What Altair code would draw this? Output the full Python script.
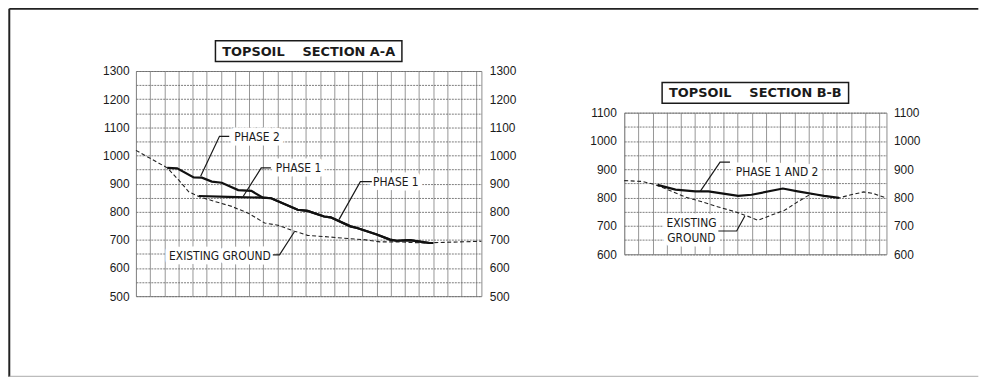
import altair as alt
import pandas as pd

# ---------------- TOPSOIL SECTION A-A ----------------
a_ground_x = [0, 2.21, 3.03, 3.73, 4.43, 5.59, 6.76, 7.92, 9.09, 10.03, 11.19, 12.12, 13.75, 15.15, 16.08, 17.24, 18.41, 20.28, 24.4]
a_ground_y = [1018, 956, 912, 871, 854, 836, 819, 795, 760, 752, 731, 716, 710, 704, 701, 693, 693, 689, 695]

a_phase2_x = [2.21, 2.91, 4.08, 4.66, 5.36, 6.06, 7.22, 8.15, 8.97, 9.55, 11.42, 12.12, 13.29, 13.75, 15.15, 15.62, 17.01, 17.94, 18.41, 19.34, 20.74, 21.0]
a_phase2_y = [956, 954, 922, 921, 907, 903, 877, 874, 850, 848, 807, 803, 783, 780, 748, 742, 719, 701, 697, 699, 689, 689]

a_phase1_x = [4.43, 6.5, 8.97, 9.55, 11.42, 12.12, 13.29, 13.75, 15.15, 15.62, 17.01, 17.94, 18.41, 19.34, 20.74, 21.0]
a_phase1_y = [856, 853, 850, 848, 807, 803, 783, 780, 748, 742, 719, 701, 697, 699, 689, 689]

a_label_text = ["PHASE 2", "PHASE 1", "PHASE 1", "EXISTING GROUND"]
a_label_x = [8.55, 11.48, 18.36, 5.93]
a_label_y = [1065, 957, 905, 642]

a_leader_id = [0, 0, 0, 1, 1, 1, 2, 2, 2, 3, 3, 3]
a_leader_x = [6.59, 5.90, 4.57, 9.53, 8.85, 7.57, 16.66, 15.85, 14.34, 9.67, 10.14, 11.19]
a_leader_y = [1068, 1068, 926, 956, 956, 854, 907, 907, 772, 647, 647, 729]

a_title = "TOPSOIL\u00a0\u00a0\u00a0\u00a0SECTION A-A"
a_x_domain = [0, 24.4]
a_y_domain = [500, 1300]

# ---------------- TOPSOIL SECTION B-B ----------------
b_ground_x = [0, 1.29, 2.22, 2.92, 4.31, 5.48, 6.64, 7.81, 8.51, 9.44, 10.38, 11.31, 12.24, 13.17, 14.1, 15.15, 16.0, 16.9, 17.6, 18.5]
b_ground_y = [860, 857, 845, 831, 802, 785, 767, 750, 738, 720, 738, 755, 785, 813, 806, 799, 810, 820, 814, 798]

b_phase_x = [2.34, 3.62, 5.01, 5.94, 8.04, 8.98, 11.19, 12.24, 13.64, 14.1, 15.15]
b_phase_y = [845, 828, 822, 822, 806, 810, 832, 822, 810, 806, 799]

b_label_text = ["PHASE 1 AND 2", "EXISTING", "GROUND"]
b_label_x = [10.78, 4.74, 4.74]
b_label_y = [891, 709, 656]

b_leader_id = [0, 0, 0, 1, 1, 1]
b_leader_x = [7.46, 6.76, 5.36, 6.64, 7.93, 8.51]
b_leader_y = [925, 925, 822, 682, 682, 735]

b_title = "TOPSOIL\u00a0\u00a0\u00a0\u00a0SECTION B-B"
b_x_domain = [0, 18.5]
b_y_domain = [600, 1100]

# ---------------- layout / style ----------------
W_A, H_A = 348.3, 227.0
W_B, H_B = 264.4, 142.7
GAP_X = 143.3          # horizontal distance between the two plot areas
OFFSET_B = 41.6        # vertical drop of the B-B plot area
LABEL_FONT = "Liberation Sans"
NOTE_FONT = "Liberation Sans Narrow, DejaVu Sans Condensed, Liberation Sans"
TITLE_FONT = "DejaVu Sans"
INK = "#1a1a1a"


def panel(ground_x, ground_y, phases, lab_t, lab_x, lab_y, led_id, led_x, led_y,
          title, xdom, ydom, W, H, lab_pad_left, lab_pad_right, extra=None):
    xs = alt.Scale(domain=xdom, nice=False, zero=False)
    ys = alt.Scale(domain=ydom, nice=False, zero=False)
    ground = pd.DataFrame({"x": ground_x, "y": ground_y})
    ph_rows = []
    for name, px, py in phases:
        for i, (a, b) in enumerate(zip(px, py)):
            ph_rows.append({"series": name, "x": a, "y": b, "i": i})
    ph = pd.DataFrame(ph_rows)
    labels = pd.DataFrame({"t": lab_t, "x": lab_x, "y": lab_y})
    leaders = pd.DataFrame({"id": led_id, "x": led_x, "y": led_y,
                            "i": list(range(len(led_x)))})

    major = list(range(ydom[0], ydom[1] + 1, 100))
    allv = list(range(ydom[0], ydom[1] + 1, 50))
    xticks = list(range(0, int(xdom[1]) + 1))

    ground_layer = alt.Chart(ground).mark_line(
        color="#222222", strokeWidth=1.1, strokeDash=[4, 2.5]
    ).encode(
        x=alt.X("x:Q", scale=xs, axis=alt.Axis(
            values=xticks, grid=True, gridColor="#8a8a8a", gridWidth=0.9,
            labels=False, ticks=False, domain=False, title=None)),
        y=alt.Y("y:Q", scale=ys, axis=alt.Axis(
            values=allv, format="d",
            labelExpr="datum.value % 100 === 0 ? datum.label : ''",
            grid=True, gridColor="#6e6e6e", gridWidth=0.9, gridDash=[2, 1],
            ticks=False, domain=False, labelPadding=lab_pad_left,
            labelFont=LABEL_FONT, labelFontSize=12, labelColor=INK, title=None)),
    )
    phase_layer = alt.Chart(ph).mark_line(color="#111111", strokeWidth=2.2).encode(
        x=alt.X("x:Q", scale=xs, axis=None),
        y=alt.Y("y:Q", scale=ys, axis=alt.Axis(
            orient="right", values=major, format="d", grid=False, ticks=False,
            domain=False, labelPadding=lab_pad_right, labelFont=LABEL_FONT,
            labelFontSize=12, labelColor=INK, title=None)),
        detail="series:N",
        order="i:Q",
    )
    mask_layer = alt.Chart(labels).mark_text(
        font=NOTE_FONT, fontSize=12, fill="white", stroke="white",
        strokeWidth=9, strokeJoin="round", baseline="middle", align="center"
    ).encode(x=alt.X("x:Q", scale=xs, axis=None),
             y=alt.Y("y:Q", scale=ys, axis=None), text="t:N")
    leader_layer = alt.Chart(leaders).mark_line(color=INK, strokeWidth=1.2).encode(
        x=alt.X("x:Q", scale=xs, axis=None),
        y=alt.Y("y:Q", scale=ys, axis=None),
        detail="id:N", order="i:Q")
    text_layer = alt.Chart(labels).mark_text(
        font=NOTE_FONT, fontSize=12, color=INK, baseline="middle", align="center"
    ).encode(x=alt.X("x:Q", scale=xs, axis=None),
             y=alt.Y("y:Q", scale=ys, axis=None), text="t:N")

    one = pd.DataFrame({"d": [0]})
    box = alt.Chart(one).mark_rect(
        fill="white", stroke=INK, strokeWidth=1.5
    ).encode(x=alt.value(W / 2 - 94), x2=alt.value(W / 2 + 94),
             y=alt.value(-30.5), y2=alt.value(-9.5))
    ttl = alt.Chart(one).mark_text(
        font=TITLE_FONT, fontWeight="bold", fontSize=13, color=INK,
        baseline="middle", align="center"
    ).encode(x=alt.value(W / 2), y=alt.value(-19.5), text=alt.value(title))

    layers = [ground_layer, phase_layer, mask_layer, leader_layer, text_layer, box, ttl]
    if extra:
        layers += extra
    return alt.layer(*layers).resolve_axis(x="independent", y="independent").properties(width=W, height=H)


# page frame (decoration) drawn relative to the A-A plot origin
one = pd.DataFrame({"d": [0]})
ox, oy = 136.7, 71.7
frame = [
    alt.Chart(one).mark_rule(color="#222222", strokeWidth=2).encode(
        x=alt.value(9 - ox), x2=alt.value(986 - ox), y=alt.value(9 - oy)),
    alt.Chart(one).mark_rule(color="#222222", strokeWidth=2).encode(
        x=alt.value(9 - ox), y=alt.value(9 - oy), y2=alt.value(380 - oy)),
    alt.Chart(one).mark_rule(color="#aaaaaa", strokeWidth=1).encode(
        x=alt.value(9 - ox), x2=alt.value(986 - ox), y=alt.value(379.5 - oy)),
]

left = panel(a_ground_x, a_ground_y,
             [("Phase 2", a_phase2_x, a_phase2_y), ("Phase 1", a_phase1_x, a_phase1_y)],
             a_label_text, a_label_x, a_label_y, a_leader_id, a_leader_x, a_leader_y,
             a_title, a_x_domain, a_y_domain, W_A, H_A, 7, 8, extra=frame)

right = panel(b_ground_x, b_ground_y,
              [("Phase 1 and 2", b_phase_x, b_phase_y)],
              b_label_text, b_label_x, b_label_y, b_leader_id, b_leader_x, b_leader_y,
              b_title, b_x_domain, b_y_domain, W_B, H_B, 8, 7)

spacer = alt.Chart(one).mark_point(opacity=0, size=1).encode(
    x=alt.value(0), y=alt.value(0)
).properties(width=W_B, height=OFFSET_B, view=alt.ViewBackground(stroke="transparent"))

right_col = alt.vconcat(spacer, right, spacing=0, bounds="flush")

chart = alt.hconcat(left, right_col, spacing=GAP_X, bounds="flush").properties(
    padding={"top": -3, "left": -1, "right": 0, "bottom": 0}, background="white"
).configure_view(stroke="#8c8c8c", strokeWidth=1)

chart.save("out.html", embed_options={"renderer": "svg", "actions": False})
